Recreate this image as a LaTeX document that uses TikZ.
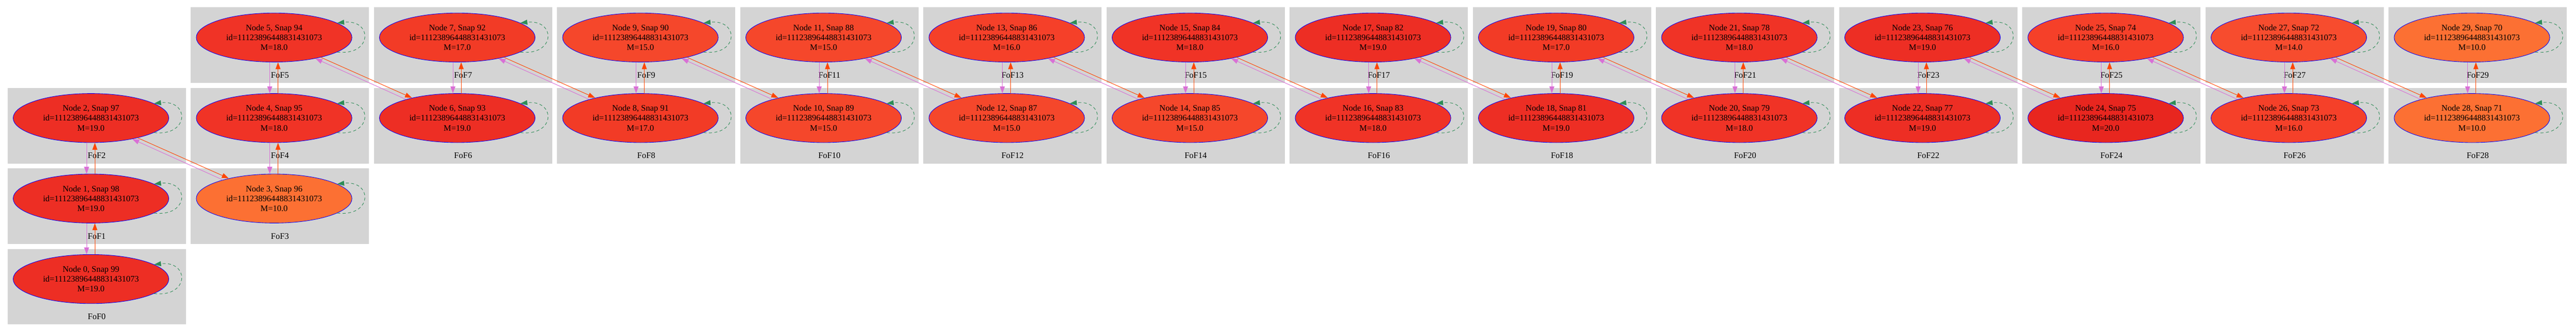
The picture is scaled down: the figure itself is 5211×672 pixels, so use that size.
\documentclass[tikz,border=0pt]{standalone}
\usepackage{fontspec}
\setmainfont{Liberation Serif}
\usetikzlibrary{shapes.geometric,arrows.meta}
\definecolor{fofgray}{rgb}{0.83, 0.83, 0.83}
\definecolor{masstwenty}{rgb}{0.91, 0.15, 0.12}
\definecolor{massnineteen}{rgb}{0.93, 0.18, 0.14}
\definecolor{masseighteen}{rgb}{0.94, 0.20, 0.15}
\definecolor{massseventeen}{rgb}{0.95, 0.23, 0.15}
\definecolor{masssixteen}{rgb}{0.96, 0.25, 0.16}
\definecolor{massfifteen}{rgb}{0.96, 0.28, 0.17}
\definecolor{massfourteen}{rgb}{0.97, 0.30, 0.18}
\definecolor{massten}{rgb}{0.99, 0.44, 0.20}
\definecolor{progred}{rgb}{1.0, 0.27, 0.0}
\definecolor{descorchid}{rgb}{0.85, 0.44, 0.84}
\definecolor{loopgreen}{rgb}{0.18, 0.55, 0.34}

\begin{document}
\begin{tikzpicture}[x=0.5pt,y=-0.5pt,
    fofbox/.style={fill=fofgray, inner sep=0, minimum width=180.25pt, minimum height=76.5pt},
    fofname/.style={inner sep=0, font=\fontsize{8.6pt}{10pt}\selectfont},
    halo/.style={ellipse, draw=blue, line width=0.45pt, inner sep=0, minimum width=157.5pt, minimum height=49.7pt, align=center, font=\fontsize{8.6pt}{10pt}\selectfont},
    desc/.style={descorchid, line width=0.5pt, -{Triangle[length=7pt,width=5pt]}},
    prog/.style={progred, line width=0.5pt, -{Triangle[length=7pt,width=5pt]}},
    selfloop/.style={loopgreen, line width=0.5pt, dash pattern=on 3pt off 2.5pt, -{Triangle[length=7pt,width=5pt]}}]
            \useasboundingbox (0,0) rectangle (5211,672);

            % FoF groups
            \node[fofbox] (b0) at (195.75,580.5) {};
            \node[fofbox] (b1) at (195.75,417.5) {};
            \node[fofbox] (b2) at (195.75,254.5) {};
            \node[fofbox] (b3) at (566.25,417.5) {};
            \node[fofbox] (b4) at (566.25,254.5) {};
            \node[fofbox] (b5) at (566.25,91.5) {};
            \node[fofbox] (b6) at (936.75,254.5) {};
            \node[fofbox] (b7) at (936.75,91.5) {};
            \node[fofbox] (b8) at (1307.25,254.5) {};
            \node[fofbox] (b9) at (1307.25,91.5) {};
            \node[fofbox] (b10) at (1677.75,254.5) {};
            \node[fofbox] (b11) at (1677.75,91.5) {};
            \node[fofbox] (b12) at (2048.25,254.5) {};
            \node[fofbox] (b13) at (2048.25,91.5) {};
            \node[fofbox] (b14) at (2418.75,254.5) {};
            \node[fofbox] (b15) at (2418.75,91.5) {};
            \node[fofbox] (b16) at (2789.25,254.5) {};
            \node[fofbox] (b17) at (2789.25,91.5) {};
            \node[fofbox] (b18) at (3159.75,254.5) {};
            \node[fofbox] (b19) at (3159.75,91.5) {};
            \node[fofbox] (b20) at (3530.25,254.5) {};
            \node[fofbox] (b21) at (3530.25,91.5) {};
            \node[fofbox] (b22) at (3900.75,254.5) {};
            \node[fofbox] (b23) at (3900.75,91.5) {};
            \node[fofbox] (b24) at (4271.25,254.5) {};
            \node[fofbox] (b25) at (4271.25,91.5) {};
            \node[fofbox] (b26) at (4641.75,254.5) {};
            \node[fofbox] (b27) at (4641.75,91.5) {};
            \node[fofbox] (b28) at (5012.25,254.5) {};
            \node[fofbox] (b29) at (5012.25,91.5) {};

            \node[fofname] (t0) at (195.75,641) {FoF0};
            \node[fofname] (t1) at (195.75,478) {FoF1};
            \node[fofname] (t2) at (195.75,315) {FoF2};
            \node[fofname] (t3) at (566.25,478) {FoF3};
            \node[fofname] (t4) at (566.25,315) {FoF4};
            \node[fofname] (t5) at (566.25,152) {FoF5};
            \node[fofname] (t6) at (936.75,315) {FoF6};
            \node[fofname] (t7) at (936.75,152) {FoF7};
            \node[fofname] (t8) at (1307.25,315) {FoF8};
            \node[fofname] (t9) at (1307.25,152) {FoF9};
            \node[fofname] (t10) at (1677.75,315) {FoF10};
            \node[fofname] (t11) at (1677.75,152) {FoF11};
            \node[fofname] (t12) at (2048.25,315) {FoF12};
            \node[fofname] (t13) at (2048.25,152) {FoF13};
            \node[fofname] (t14) at (2418.75,315) {FoF14};
            \node[fofname] (t15) at (2418.75,152) {FoF15};
            \node[fofname] (t16) at (2789.25,315) {FoF16};
            \node[fofname] (t17) at (2789.25,152) {FoF17};
            \node[fofname] (t18) at (3159.75,315) {FoF18};
            \node[fofname] (t19) at (3159.75,152) {FoF19};
            \node[fofname] (t20) at (3530.25,315) {FoF20};
            \node[fofname] (t21) at (3530.25,152) {FoF21};
            \node[fofname] (t22) at (3900.75,315) {FoF22};
            \node[fofname] (t23) at (3900.75,152) {FoF23};
            \node[fofname] (t24) at (4271.25,315) {FoF24};
            \node[fofname] (t25) at (4271.25,152) {FoF25};
            \node[fofname] (t26) at (4641.75,315) {FoF26};
            \node[fofname] (t27) at (4641.75,152) {FoF27};
            \node[fofname] (t28) at (5012.25,315) {FoF28};
            \node[fofname] (t29) at (5012.25,152) {FoF29};

            % Halos
            \node[halo, fill=massnineteen] (n0) at (184,565) {Node 0, Snap 99\\id=11123896448831431073\\M=19.0};
            \node[halo, fill=massnineteen] (n1) at (184,402) {Node 1, Snap 98\\id=11123896448831431073\\M=19.0};
            \node[halo, fill=massnineteen] (n2) at (184,239) {Node 2, Snap 97\\id=11123896448831431073\\M=19.0};
            \node[halo, fill=massten] (n3) at (554.5,402) {Node 3, Snap 96\\id=11123896448831431073\\M=10.0};
            \node[halo, fill=masseighteen] (n4) at (554.5,239) {Node 4, Snap 95\\id=11123896448831431073\\M=18.0};
            \node[halo, fill=masseighteen] (n5) at (554.5,76) {Node 5, Snap 94\\id=11123896448831431073\\M=18.0};
            \node[halo, fill=massnineteen] (n6) at (925,239) {Node 6, Snap 93\\id=11123896448831431073\\M=19.0};
            \node[halo, fill=massseventeen] (n7) at (925,76) {Node 7, Snap 92\\id=11123896448831431073\\M=17.0};
            \node[halo, fill=massseventeen] (n8) at (1295.5,239) {Node 8, Snap 91\\id=11123896448831431073\\M=17.0};
            \node[halo, fill=massfifteen] (n9) at (1295.5,76) {Node 9, Snap 90\\id=11123896448831431073\\M=15.0};
            \node[halo, fill=massfifteen] (n10) at (1666,239) {Node 10, Snap 89\\id=11123896448831431073\\M=15.0};
            \node[halo, fill=massfifteen] (n11) at (1666,76) {Node 11, Snap 88\\id=11123896448831431073\\M=15.0};
            \node[halo, fill=massfifteen] (n12) at (2036.5,239) {Node 12, Snap 87\\id=11123896448831431073\\M=15.0};
            \node[halo, fill=masssixteen] (n13) at (2036.5,76) {Node 13, Snap 86\\id=11123896448831431073\\M=16.0};
            \node[halo, fill=massfifteen] (n14) at (2407,239) {Node 14, Snap 85\\id=11123896448831431073\\M=15.0};
            \node[halo, fill=masseighteen] (n15) at (2407,76) {Node 15, Snap 84\\id=11123896448831431073\\M=18.0};
            \node[halo, fill=masseighteen] (n16) at (2777.5,239) {Node 16, Snap 83\\id=11123896448831431073\\M=18.0};
            \node[halo, fill=massnineteen] (n17) at (2777.5,76) {Node 17, Snap 82\\id=11123896448831431073\\M=19.0};
            \node[halo, fill=massnineteen] (n18) at (3148,239) {Node 18, Snap 81\\id=11123896448831431073\\M=19.0};
            \node[halo, fill=massseventeen] (n19) at (3148,76) {Node 19, Snap 80\\id=11123896448831431073\\M=17.0};
            \node[halo, fill=masseighteen] (n20) at (3518.5,239) {Node 20, Snap 79\\id=11123896448831431073\\M=18.0};
            \node[halo, fill=masseighteen] (n21) at (3518.5,76) {Node 21, Snap 78\\id=11123896448831431073\\M=18.0};
            \node[halo, fill=massnineteen] (n22) at (3889,239) {Node 22, Snap 77\\id=11123896448831431073\\M=19.0};
            \node[halo, fill=massnineteen] (n23) at (3889,76) {Node 23, Snap 76\\id=11123896448831431073\\M=19.0};
            \node[halo, fill=masstwenty] (n24) at (4259.5,239) {Node 24, Snap 75\\id=11123896448831431073\\M=20.0};
            \node[halo, fill=masssixteen] (n25) at (4259.5,76) {Node 25, Snap 74\\id=11123896448831431073\\M=16.0};
            \node[halo, fill=masssixteen] (n26) at (4630,239) {Node 26, Snap 73\\id=11123896448831431073\\M=16.0};
            \node[halo, fill=massfourteen] (n27) at (4630,76) {Node 27, Snap 72\\id=11123896448831431073\\M=14.0};
            \node[halo, fill=massten] (n28) at (5000.5,239) {Node 28, Snap 71\\id=11123896448831431073\\M=10.0};
            \node[halo, fill=massten] (n29) at (5000.5,76) {Node 29, Snap 70\\id=11123896448831431073\\M=10.0};

            % Links inside a column
            \draw[desc] (n1.-100) -- (n0.100);
            \draw[prog] (n0.81) -- (n1.-81);
            \draw[desc] (n2.-100) -- (n1.100);
            \draw[prog] (n1.81) -- (n2.-81);
            \draw[desc] (n4.-100) -- (n3.100);
            \draw[prog] (n3.81) -- (n4.-81);
            \draw[desc] (n5.-100) -- (n4.100);
            \draw[prog] (n4.81) -- (n5.-81);
            \draw[desc] (n7.-100) -- (n6.100);
            \draw[prog] (n6.81) -- (n7.-81);
            \draw[desc] (n9.-100) -- (n8.100);
            \draw[prog] (n8.81) -- (n9.-81);
            \draw[desc] (n11.-100) -- (n10.100);
            \draw[prog] (n10.81) -- (n11.-81);
            \draw[desc] (n13.-100) -- (n12.100);
            \draw[prog] (n12.81) -- (n13.-81);
            \draw[desc] (n15.-100) -- (n14.100);
            \draw[prog] (n14.81) -- (n15.-81);
            \draw[desc] (n17.-100) -- (n16.100);
            \draw[prog] (n16.81) -- (n17.-81);
            \draw[desc] (n19.-100) -- (n18.100);
            \draw[prog] (n18.81) -- (n19.-81);
            \draw[desc] (n21.-100) -- (n20.100);
            \draw[prog] (n20.81) -- (n21.-81);
            \draw[desc] (n23.-100) -- (n22.100);
            \draw[prog] (n22.81) -- (n23.-81);
            \draw[desc] (n25.-100) -- (n24.100);
            \draw[prog] (n24.81) -- (n25.-81);
            \draw[desc] (n27.-100) -- (n26.100);
            \draw[prog] (n26.81) -- (n27.-81);
            \draw[desc] (n29.-100) -- (n28.100);
            \draw[prog] (n28.81) -- (n29.-81);

            % Links across columns
            \draw[prog] (n2.-23) -- (n3.156);
            \draw[desc] (n3.160) -- (n2.-27);
            \draw[prog] (n5.-23) -- (n6.156);
            \draw[desc] (n6.160) -- (n5.-27);
            \draw[prog] (n7.-23) -- (n8.156);
            \draw[desc] (n8.160) -- (n7.-27);
            \draw[prog] (n9.-23) -- (n10.156);
            \draw[desc] (n10.160) -- (n9.-27);
            \draw[prog] (n11.-23) -- (n12.156);
            \draw[desc] (n12.160) -- (n11.-27);
            \draw[prog] (n13.-23) -- (n14.156);
            \draw[desc] (n14.160) -- (n13.-27);
            \draw[prog] (n15.-23) -- (n16.156);
            \draw[desc] (n16.160) -- (n15.-27);
            \draw[prog] (n17.-23) -- (n18.156);
            \draw[desc] (n18.160) -- (n17.-27);
            \draw[prog] (n19.-23) -- (n20.156);
            \draw[desc] (n20.160) -- (n19.-27);
            \draw[prog] (n21.-23) -- (n22.156);
            \draw[desc] (n22.160) -- (n21.-27);
            \draw[prog] (n23.-23) -- (n24.156);
            \draw[desc] (n24.160) -- (n23.-27);
            \draw[prog] (n25.-23) -- (n26.156);
            \draw[desc] (n26.160) -- (n25.-27);
            \draw[prog] (n27.-23) -- (n28.156);
            \draw[desc] (n28.160) -- (n27.-27);

            % Self links
            \draw[selfloop] (n0.-13) .. controls +(36pt,-4pt) and +(36pt,4pt) .. (n0.13);
            \draw[selfloop] (n1.-13) .. controls +(36pt,-4pt) and +(36pt,4pt) .. (n1.13);
            \draw[selfloop] (n2.-13) .. controls +(36pt,-4pt) and +(36pt,4pt) .. (n2.13);
            \draw[selfloop] (n3.-13) .. controls +(36pt,-4pt) and +(36pt,4pt) .. (n3.13);
            \draw[selfloop] (n4.-13) .. controls +(36pt,-4pt) and +(36pt,4pt) .. (n4.13);
            \draw[selfloop] (n5.-13) .. controls +(36pt,-4pt) and +(36pt,4pt) .. (n5.13);
            \draw[selfloop] (n6.-13) .. controls +(36pt,-4pt) and +(36pt,4pt) .. (n6.13);
            \draw[selfloop] (n7.-13) .. controls +(36pt,-4pt) and +(36pt,4pt) .. (n7.13);
            \draw[selfloop] (n8.-13) .. controls +(36pt,-4pt) and +(36pt,4pt) .. (n8.13);
            \draw[selfloop] (n9.-13) .. controls +(36pt,-4pt) and +(36pt,4pt) .. (n9.13);
            \draw[selfloop] (n10.-13) .. controls +(36pt,-4pt) and +(36pt,4pt) .. (n10.13);
            \draw[selfloop] (n11.-13) .. controls +(36pt,-4pt) and +(36pt,4pt) .. (n11.13);
            \draw[selfloop] (n12.-13) .. controls +(36pt,-4pt) and +(36pt,4pt) .. (n12.13);
            \draw[selfloop] (n13.-13) .. controls +(36pt,-4pt) and +(36pt,4pt) .. (n13.13);
            \draw[selfloop] (n14.-13) .. controls +(36pt,-4pt) and +(36pt,4pt) .. (n14.13);
            \draw[selfloop] (n15.-13) .. controls +(36pt,-4pt) and +(36pt,4pt) .. (n15.13);
            \draw[selfloop] (n16.-13) .. controls +(36pt,-4pt) and +(36pt,4pt) .. (n16.13);
            \draw[selfloop] (n17.-13) .. controls +(36pt,-4pt) and +(36pt,4pt) .. (n17.13);
            \draw[selfloop] (n18.-13) .. controls +(36pt,-4pt) and +(36pt,4pt) .. (n18.13);
            \draw[selfloop] (n19.-13) .. controls +(36pt,-4pt) and +(36pt,4pt) .. (n19.13);
            \draw[selfloop] (n20.-13) .. controls +(36pt,-4pt) and +(36pt,4pt) .. (n20.13);
            \draw[selfloop] (n21.-13) .. controls +(36pt,-4pt) and +(36pt,4pt) .. (n21.13);
            \draw[selfloop] (n22.-13) .. controls +(36pt,-4pt) and +(36pt,4pt) .. (n22.13);
            \draw[selfloop] (n23.-13) .. controls +(36pt,-4pt) and +(36pt,4pt) .. (n23.13);
            \draw[selfloop] (n24.-13) .. controls +(36pt,-4pt) and +(36pt,4pt) .. (n24.13);
            \draw[selfloop] (n25.-13) .. controls +(36pt,-4pt) and +(36pt,4pt) .. (n25.13);
            \draw[selfloop] (n26.-13) .. controls +(36pt,-4pt) and +(36pt,4pt) .. (n26.13);
            \draw[selfloop] (n27.-13) .. controls +(36pt,-4pt) and +(36pt,4pt) .. (n27.13);
            \draw[selfloop] (n28.-13) .. controls +(36pt,-4pt) and +(36pt,4pt) .. (n28.13);
            \draw[selfloop] (n29.-13) .. controls +(36pt,-4pt) and +(36pt,4pt) .. (n29.13);

\end{tikzpicture}
\end{document}
